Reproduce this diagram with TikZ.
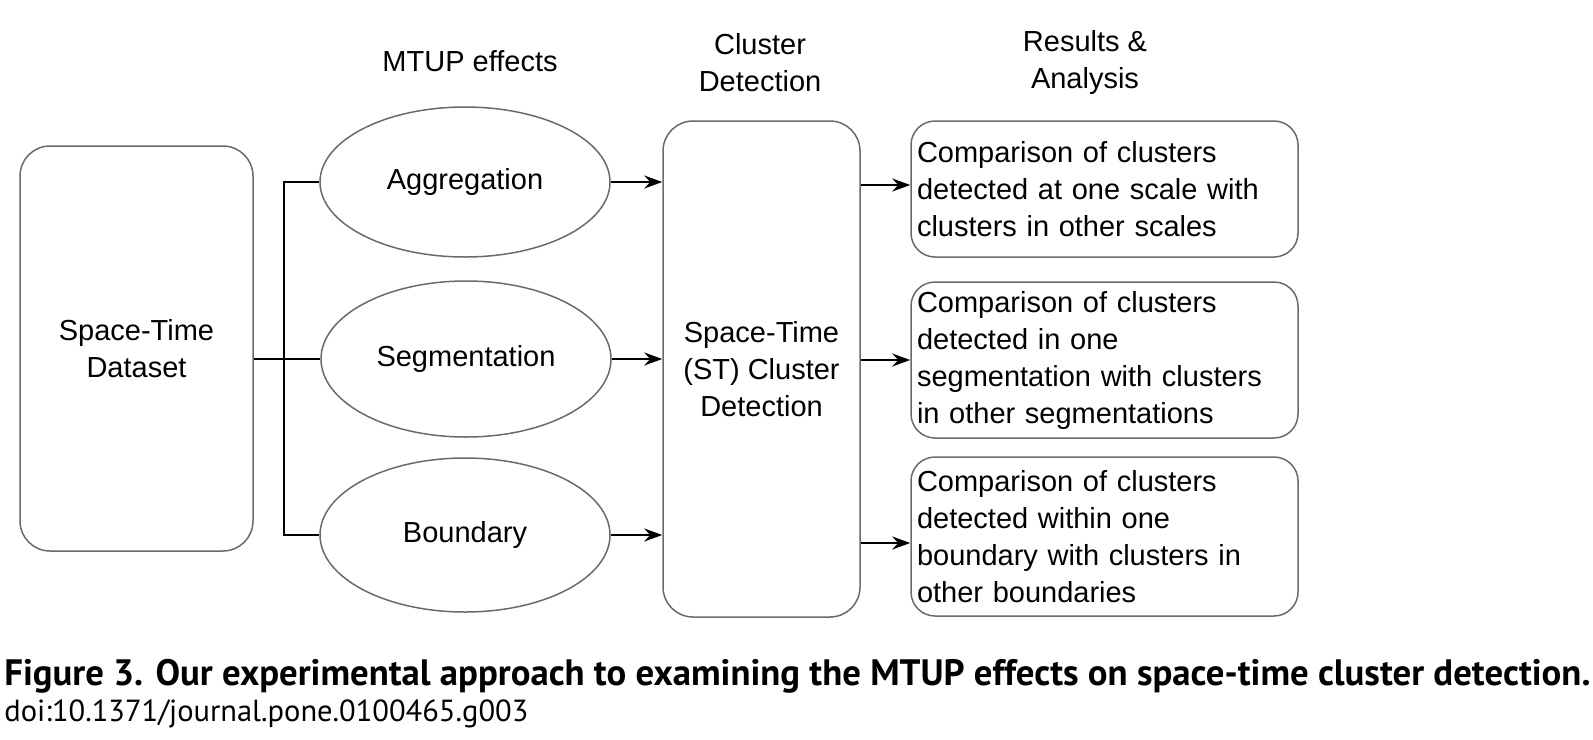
\documentclass[tikz,border=0pt]{standalone}
\usepackage{fontspec}
\setmainfont{Liberation Sans}
\newfontfamily\capfont{PT Sans}
\usetikzlibrary{shapes.geometric,arrows.meta,positioning}
\definecolor{edgegray}{HTML}{6A6A6A}
\tikzset{
  rbox/.style={draw=edgegray, line width=0.75pt, rounded corners=15pt, fill=white},
  ebox/.style={draw=edgegray, line width=0.75pt, ellipse, inner sep=0pt, minimum width=145pt},
  resbox/.style={rbox, rounded corners=12pt, align=left, inner xsep=3pt, text width=187.5pt, minimum width=193.5pt},
  conn/.style={line width=1pt, draw=black},
  arr/.style={conn, -{Stealth[length=9pt,width=6.5pt,inset=3pt]}},
  lbl/.style={align=center, inner sep=0pt},
  body/.style={font=\fontsize{14.5}{18.5}\selectfont}
}
\begin{document}
\begin{tikzpicture}[x=0.5pt, y=-0.5pt, body]
\useasboundingbox (0,0) rectangle (1593,739);
% column titles
\node[lbl] (t1) at (470,61) {MTUP effects};
\node[lbl] (t2) at (760,63) {Cluster\\Detection};
\node[lbl] (t3) at (1085,63) {Results \&\\Analysis};
% nodes
\node[rbox, minimum width=116.5pt, minimum height=202.5pt, align=center] (ds) at (136.5,348.5) {Space-Time\\Dataset};
\node[ebox, minimum height=75pt] (agg) at (465,182) {Aggregation};
\node[ebox, minimum height=78pt] (seg) at (466,359) {Segmentation};
\node[ebox, minimum height=77pt] (bnd) at (465,535) {Boundary};
\node[rbox, minimum width=98.5pt, minimum height=248pt, align=center] (clu) at (761.5,369) {Space-Time\\(ST) Cluster\\Detection};
\node[resbox, minimum height=68pt] (r1) at (1104.5,189) {Comparison of clusters\\detected at one scale with\\clusters in other scales};
\node[resbox, minimum height=78pt] (r2) at (1104.5,360) {Comparison of clusters\\detected in one\\segmentation with clusters\\in other segmentations};
\node[resbox, minimum height=79.5pt] (r3) at (1104.5,536.5) {Comparison of clusters\\detected within one\\boundary with clusters in\\other boundaries};
% branching connector
\coordinate (br) at (284,359);
\draw[conn] (ds.east |- br) -- (seg.west);
\draw[conn] (agg.west) -| (br) |- (bnd.west);
% arrows into cluster detection
\draw[arr] (agg.east) -- (agg.east -| clu.west);
\draw[arr] (seg.east) -- (seg.east -| clu.west);
\draw[arr] (bnd.east) -- (bnd.east -| clu.west);
% arrows to results
\coordinate (a1) at (0,185);
\coordinate (a3) at (0,543);
\draw[arr] (clu.east |- a1) -- (r1.west |- a1);
\draw[arr] (clu.east |- r2.west) -- (r2.west);
\draw[arr] (clu.east |- a3) -- (r3.west |- a3);
% caption
\node[anchor=base west, inner sep=0pt] (cap1) at (4,685) {\resizebox{793pt}{!}{\capfont\bfseries Figure 3. Our experimental approach to examining the MTUP effects on space-time cluster detection.}};
\node[anchor=base west, inner sep=0pt] (cap2) at (4,721) {\resizebox{262pt}{!}{\capfont doi:10.1371/journal.pone.0100465.g003}};
\end{tikzpicture}
\end{document}
